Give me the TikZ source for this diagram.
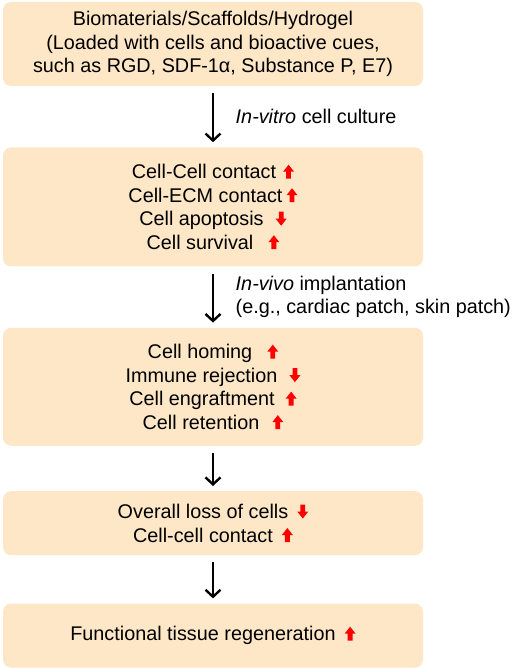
\documentclass[tikz,border=0pt]{standalone}
\usepackage{fontspec}
\setmainfont{Liberation Sans}
\usepackage{tikz}
\usetikzlibrary{arrows.meta,positioning,calc}
\usepackage{xcolor}
\definecolor{peach}{HTML}{FDE7C6}
\definecolor{uparrred}{HTML}{FF0000}
\newcommand{\upmark}[1]{\hspace{#1pt}\tikz[baseline=0pt, sharp corners]\fill[uparrred] (-2.4pt,0)--(-2.4pt,7pt)--(-5.5pt,7pt)--(0,14pt)--(5.5pt,7pt)--(2.4pt,7pt)--(2.4pt,0)--cycle;}
\newcommand{\downmark}[1]{\hspace{#1pt}\tikz[baseline=0pt, sharp corners]\fill[uparrred] (-2.4pt,14pt)--(-2.4pt,7pt)--(-5.5pt,7pt)--(0,0)--(5.5pt,7pt)--(2.4pt,7pt)--(2.4pt,14pt)--cycle;}
\tikzset{
  box/.style={fill=peach, rounded corners=8pt, minimum width=420pt, align=center, inner sep=0pt, font=\fontsize{19.8}{23.5}\selectfont},
  flow/.style={-{Straight Barb[length=7pt,width=15pt,line width=2.4pt]}, line width=2.8pt, shorten <=7pt, shorten >=5pt},
  step label/.style={right=18pt, align=left, font=\fontsize{19.8}{22.5}\selectfont}
}
\begin{document}
\begin{tikzpicture}[x=1pt,y=1pt]
  \useasboundingbox (0,0) rectangle (512,-668);
  \node[box, minimum height=84pt] (scaffold) at (213,-44) {Biomaterials/Scaffolds/Hydrogel\\(Loaded with cells and bioactive cues,\\such as RGD, SDF-1α, Substance P, E7)};
  \node[box, minimum height=119pt, below=61pt of scaffold] (culture) {Cell-Cell contact\upmark{7}\\Cell-ECM contact\upmark{4}\\Cell apoptosis\downmark{12}\\Cell survival\upmark{15}};
  \node[box, minimum height=118pt, below=61pt of culture] (implant) {Cell homing\upmark{15}\\Immune rejection\downmark{12}\\Cell engraftment\upmark{11}\\Cell retention\upmark{13}};
  \node[box, minimum height=64pt, below=45pt of implant] (loss) {Overall loss of cells\downmark{9}\\Cell-cell contact\upmark{9}};
  \node[box, minimum height=64pt, below=48pt of loss] (regen) {Functional tissue regeneration\upmark{9}};
  % steps
  \draw[flow] (scaffold) -- (culture) node[midway, step label] {\textit{In-vitro} cell culture};
  \draw[flow] (culture) -- (implant) node[midway, step label] {\textit{In-vivo} implantation\\(e.g., cardiac patch, skin patch)};
  \draw[flow] (implant) -- (loss);
  \draw[flow] (loss) -- (regen);
\end{tikzpicture}
\end{document}
